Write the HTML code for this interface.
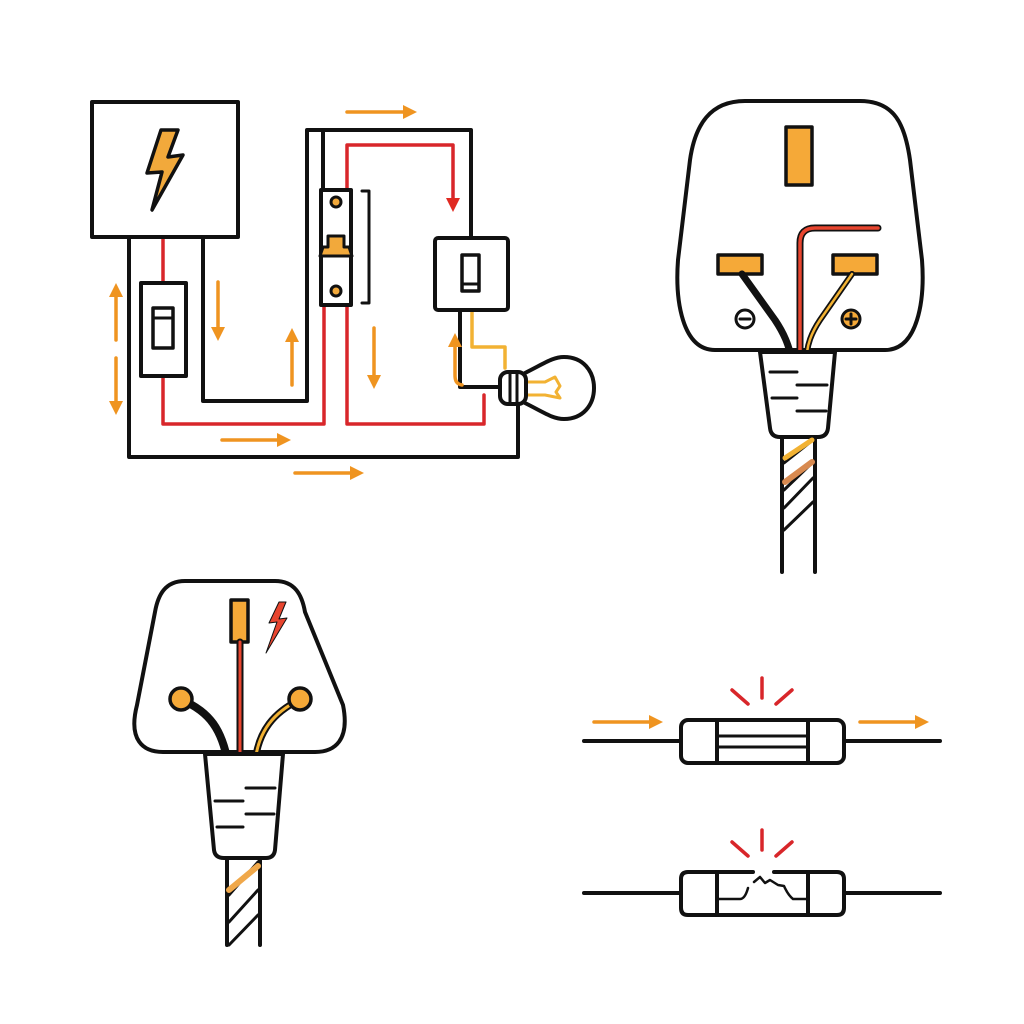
<!DOCTYPE html>
<html><head><meta charset="utf-8"><style>html,body{margin:0;padding:0;background:#fff}svg{display:block}</style></head>
<body>
<svg width="1024" height="1024" viewBox="0 0 1024 1024" xmlns="http://www.w3.org/2000/svg">
<defs>
<marker id="ah" viewBox="0 0 10 10" refX="5" refY="5" markerWidth="4" markerHeight="4" orient="auto-start-reverse" markerUnits="strokeWidth"><path d="M0,0L10,5L0,10z" fill="#ef9420"/></marker>
<marker id="ahr" viewBox="0 0 10 10" refX="5" refY="5" markerWidth="4" markerHeight="4" orient="auto" markerUnits="strokeWidth"><path d="M0,0L10,5L0,10z" fill="#e02a22"/></marker>
</defs>
<rect width="1024" height="1024" fill="#fff"/>
<g fill="none" stroke-linejoin="round" stroke-linecap="round">
<g stroke="#d8262a" stroke-width="3.5">
<path d="M163,237V283M163,376V424H324V305"/>
<path d="M347,305V424H484V395"/>
<path d="M347,190V145H453V205" marker-end="url(#ahr)"/>
</g>
<path d="M472,310V347H505V368" stroke="#f2b233" stroke-width="3.5"/>
<g stroke="#111" stroke-width="4">
<path d="M129,237V457H518V405"/>
<path d="M203,237V401H307V130H471V238"/>
<path d="M323,130V190"/>
<path d="M460,310V387H498"/>
<rect x="92" y="102" width="146" height="135" fill="#fff"/>
<rect x="141" y="283" width="45" height="93" fill="#fff"/>
<rect x="153" y="308" width="20" height="40" fill="#fff" stroke-width="3.5"/>
<path d="M153,318H173" stroke-width="3"/>
<rect x="321" y="190" width="30" height="115" fill="#fff"/>
<path d="M362,191H369V303H362" stroke-width="3"/>
<rect x="435" y="238" width="73" height="72" rx="3" fill="#fff"/>
<rect x="462" y="255" width="17" height="36" fill="#fff" stroke-width="3.5"/>
<path d="M462,284H479" stroke-width="3"/>
</g>
<circle cx="336" cy="202" r="5" fill="#f2a93b" stroke="#111" stroke-width="3"/>
<circle cx="336" cy="291" r="5" fill="#f2a93b" stroke="#111" stroke-width="3"/>
<path d="M328,236H344V247H349L352,256H320L323,247H328Z" fill="#f2a93b" stroke="#111" stroke-width="3"/>
<path d="M161,130L178,130L168,157L183,155L152,210L162,172L147,173Z" fill="#f2a93b" stroke="#111" stroke-width="3.5"/>
<path d="M525,373C545,363 553,357 564,357C583,357 594,371 594,388C594,405 583,419 564,419C553,419 545,413 525,403" fill="#fff" stroke="#111" stroke-width="4"/>
<path d="M527,382H545L555,377L560,386L556,392L560,398L545,395H527" stroke="#f2b233" stroke-width="3"/>
<rect x="500" y="372" width="26" height="32" rx="8" fill="#fff" stroke="#111" stroke-width="4"/>
<path d="M510,372V404M517,372V404" stroke="#111" stroke-width="3"/>
<g stroke="#ef9420" stroke-width="3.5">
<path d="M116,340V290" marker-end="url(#ah)"/>
<path d="M116,358V408" marker-end="url(#ah)"/>
<path d="M218,282V334" marker-end="url(#ah)"/>
<path d="M292,385V335" marker-end="url(#ah)"/>
<path d="M374,328V382" marker-end="url(#ah)"/>
<path d="M222,440H284" marker-end="url(#ah)"/>
<path d="M295,473H357" marker-end="url(#ah)"/>
<path d="M347,112H410" marker-end="url(#ah)"/>
<path d="M462,385C456,384 455,380 455,375V340" marker-end="url(#ah)"/>
</g>

<path d="M745,101H860C895,101 905,125 910,160L922,260C925,300 918,350 885,350H715C682,350 675,300 678,260L690,160C695,125 710,101 745,101Z" fill="#fff" stroke="#111" stroke-width="4"/>
<rect x="786" y="127" width="26" height="58" fill="#f5a938" stroke="#111" stroke-width="3.5"/>
<rect x="718" y="255" width="44" height="19" fill="#f5a938" stroke="#111" stroke-width="3.5"/>
<rect x="833" y="255" width="44" height="19" fill="#f5a938" stroke="#111" stroke-width="3.5"/>
<path d="M742,274L775,320C785,335 788,345 790,352" stroke="#111" stroke-width="7"/>
<path d="M852,274L820,320C810,335 808,345 807,352" stroke="#111" stroke-width="6"/>
<path d="M852,274L820,320C810,335 808,345 807,352" stroke="#f2b233" stroke-width="2.5"/>
<path d="M878,228H815Q800,228 800,243V352" stroke="#111" stroke-width="7"/>
<path d="M878,228H815Q800,228 800,243V352" stroke="#e8452f" stroke-width="3.5"/>
<circle cx="745" cy="319" r="9" fill="#fff" stroke="#111" stroke-width="3"/>
<path d="M740,319H750" stroke="#111" stroke-width="3"/>
<circle cx="851" cy="319" r="9" fill="#f5a938" stroke="#111" stroke-width="3"/>
<path d="M846,319H856M851,314V324" stroke="#111" stroke-width="3"/>
<path d="M760,352L770,428Q771,437 780,437H818Q827,437 828,428L835,352Z" fill="#fff" stroke="#111" stroke-width="4"/>
<path d="M770,372H797M797,385H827M772,398H797M797,411H826" stroke="#111" stroke-width="3"/>
<path d="M782,439V572M815,439V572" stroke="#111" stroke-width="4"/>
<path d="M784,463L813,440M784,490L813,462M784,508L813,478M784,530L813,502" stroke="#111" stroke-width="3"/>
<path d="M785,458L812,440" stroke="#f2b233" stroke-width="5"/>
<path d="M785,482L812,462" stroke="#d88a50" stroke-width="6"/>

<path d="M185,581H275C295,581 302,595 305,612L343,705C350,740 335,752 315,752H163C143,752 128,740 137,705L155,612C158,595 165,581 185,581Z" fill="#fff" stroke="#111" stroke-width="4"/>
<rect x="231" y="600" width="17" height="42" fill="#f5a938" stroke="#111" stroke-width="3.5"/>
<path d="M279,602L269,623L277,622L266,653L287,618L279,619L286,602Z" fill="#e8452f" stroke="#111" stroke-width="1"/>
<path d="M240,642V763" stroke="#111" stroke-width="7"/>
<path d="M240,642V763" stroke="#e8452f" stroke-width="3"/>
<path d="M182,700C210,712 222,730 228,763" stroke="#111" stroke-width="8"/>
<path d="M299,700C275,712 258,730 255,763" stroke="#111" stroke-width="7"/>
<path d="M299,700C275,712 258,730 255,763" stroke="#f2b233" stroke-width="3"/>
<circle cx="181" cy="699" r="11" fill="#f5a938" stroke="#111" stroke-width="3.5"/>
<circle cx="300" cy="699" r="11" fill="#f5a938" stroke="#111" stroke-width="3.5"/>
<path d="M205,754L214,850Q215,858 224,858H266Q274,858 275,850L283,754Z" fill="#fff" stroke="#111" stroke-width="4"/>
<path d="M246,788H275M215,801H243M246,814H274M217,827H243" stroke="#111" stroke-width="3"/>
<path d="M227,860V945M260,860V945" stroke="#111" stroke-width="4"/>
<path d="M229,895L258,862M229,922L258,890M229,945L258,915" stroke="#111" stroke-width="3"/>
<path d="M229,890L258,866" stroke="#f0a84a" stroke-width="6"/>

<path d="M584,741H681M844,741H940" stroke="#111" stroke-width="4"/>
<rect x="681" y="720" width="163" height="43" rx="7" fill="#fff" stroke="#111" stroke-width="4"/>
<path d="M717,720V763M808,720V763" stroke="#111" stroke-width="4"/>
<path d="M717,736H808M717,747H808" stroke="#111" stroke-width="3"/>
<path d="M594,722H656" stroke="#ef9420" stroke-width="3.5" marker-end="url(#ah)"/>
<path d="M860,722H922" stroke="#ef9420" stroke-width="3.5" marker-end="url(#ah)"/>
<path d="M762,678V698M732,690L748,704M792,690L776,704" stroke="#d8262a" stroke-width="3.5"/>

<path d="M584,893H681M844,893H940" stroke="#111" stroke-width="4"/>
<path d="M688,872H753M774,872H837Q844,872 844,879V908Q844,915 837,915H688Q681,915 681,908V879Q681,872 688,872" fill="#fff" stroke="#111" stroke-width="4"/>
<path d="M717,872V915M808,872V915" stroke="#111" stroke-width="4"/>
<path d="M717,899H740Q745,899 748,888M754,882L760,877L765,883L770,880L778,885L784,886Q788,895 793,899H808" stroke="#111" stroke-width="2.5"/>
<path d="M762,830V850M732,842L748,856M792,842L776,856" stroke="#d8262a" stroke-width="3.5"/>
</g>
</svg>
</body></html>
